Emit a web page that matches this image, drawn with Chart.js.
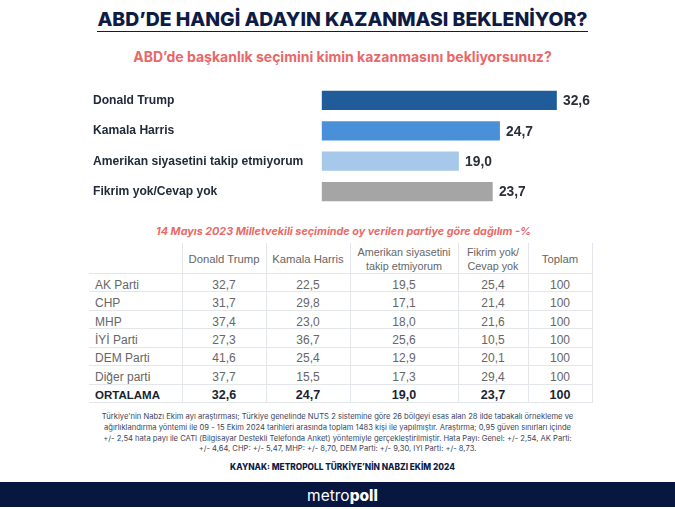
<!DOCTYPE html>
<html lang="tr">
<head>
<meta charset="utf-8">
<title>ABD'de hangi adayın kazanması bekleniyor?</title>
<script src="https://cdn.jsdelivr.net/npm/chart.js@4"></script>
<style>
    html, body { margin: 0; padding: 0; background: #fff; }
    #page { position: relative; width: 675px; height: 509px; overflow: hidden; font-family: "Liberation Sans", sans-serif; }
    #page > div { position: absolute; text-align: center; }
    #title { left: 0; width: 685px; top: 9px; font: 800 19.4px/20.5px Inter, sans-serif; color: #0d1b45; }
    #title span { border-bottom: 1.5px solid #0d1b45; }
    #subtitle { left: 0; width: 685px; top: 48px; font: 700 14px/18px Inter, sans-serif; color: #e8686a; }
    #chartBox { left: 93px; top: 77.5px; width: 560px; height: 136px; }
    #tableTitle { left: 0; width: 687px; top: 224px; font: italic 700 10.8px/15px Inter, sans-serif; color: #ea6a68; }
    #tableBox { left: 89px; top: 243px; }
    table { border-collapse: collapse; table-layout: fixed; width: 503px; color: #666; font-size: 12px; }
    td, th { box-sizing: border-box; border: 1.5px solid #e3e6ea; border-left: 0; padding: 4px 0 0; text-align: center; font-weight: 400; height: 18.43px; line-height: 12px; }
    tr:first-child th { border-top: 0; height: 29px; padding-top: 2px; font-size: 10.8px; line-height: 14px; }
    tr:first-child th.single { font-size: 11.3px; }
    td:last-child, th:last-child { border-right: 1.5px solid #e3e6ea; }
    td:first-child { text-align: left; padding-left: 6px; }
    tr.avg td { font-weight: 700; color: #1a1f33; font-size: 12.5px; }
    tr.avg td:first-child { font-size: 11.5px; }
    #note { left: 0; width: 675px; top: 412px; font: 400 7.6px/10.8px Inter, sans-serif; color: #3b4660; white-space: nowrap; }
    #source { left: 0; width: 685px; top: 461px; font: 800 8.3px/13px Inter, sans-serif; color: #0d1b45; }
    #band { left: 0; top: 482px; width: 685px; height: 25px; color: #fff; font: 400 15.5px/27px Inter, sans-serif; z-index: 1; }
    #bandFill { left: 0; top: 482px; width: 675px; height: 25px; background: #07173f; }
    #band b { font-weight: 800; }
</style>
</head>
<body>
<div id="page">
    <div id="title"><span>ABD’DE HANGİ ADAYIN KAZANMASI BEKLENİYOR?</span></div>
    <div id="subtitle">ABD’de başkanlık seçimini kimin kazanmasını bekliyorsunuz?</div>
    <div id="chartBox"><canvas id="mainChart"></canvas></div>
    <div id="tableTitle">14 Mayıs 2023 Milletvekili seçiminde oy verilen partiye göre dağılım -%</div>
    <div id="tableBox"><table id="partyTable"></table></div>
    <div id="note">Türkiye'nin Nabzı Ekim ayı araştırması; Türkiye genelinde NUTS 2 sistemine göre 26 bölgeyi esas alan 28 ilde tabakalı örnekleme ve<br>ağırlıklandırma yöntemi ile 09 - 15 Ekim 2024 tarihleri arasında toplam 1483 kişi ile yapılmıştır. Araştırma; 0,95 güven sınırları içinde<br>+/- 2,54 hata payı ile CATI (Bilgisayar Destekli Telefonda Anket) yöntemiyle gerçekleştirilmiştir. Hata Payı: Genel: +/- 2,54, AK Parti:<br>+/- 4,64, CHP: +/- 5,47, MHP: +/- 8,70, DEM Parti: +/- 9,30, IYI Parti: +/- 8,73.</div>
    <div id="source">KAYNAK: METROPOLL TÜRKİYE’NİN NABZI EKİM 2024</div>
    <div id="bandFill"></div>
    <div id="band">metro<b>poll</b></div>
</div>
<script>
const candidates = ["Donald Trump", "Kamala Harris", "Amerikan siyasetini takip etmiyorum", "Fikrim yok/Cevap yok"];
const shares = [32.6, 24.7, 19.0, 23.7];
const barColors = ["#1f5c99", "#4a90d9", "#a6c8ea", "#a5a5a5"];

const tableHead = ["", "Donald Trump", "Kamala Harris", "Amerikan siyasetini<br>takip etmiyorum", "Fikrim yok/<br>Cevap yok", "Toplam"];
const parties = ["AK Parti", "CHP", "MHP", "İYİ Parti", "DEM Parti", "Diğer parti", "ORTALAMA"];
const trumpRow = [32.7, 31.7, 37.4, 27.3, 41.6, 37.7, 32.6];
const harrisRow = [22.5, 29.8, 23.0, 36.7, 25.4, 15.5, 24.7];
const notFollowingRow = [19.5, 17.1, 18.0, 25.6, 12.9, 17.3, 19.0];
const noIdeaRow = [25.4, 21.4, 21.6, 10.5, 20.1, 29.4, 23.7];
const totalRow = [100, 100, 100, 100, 100, 100, 100];
const colWidths = [93, 84, 84, 108, 70, 64];

const fmt = (v) => v.toFixed(1).replace(".", ",");

// value labels at the end of each bar
const valueLabels = {
    id: "valueLabels",
    afterDatasetsDraw(chart) {
        const ctx = chart.ctx;
        ctx.save();
        ctx.font = "700 13.8px 'Liberation Sans'";
        ctx.fillStyle = "#2a2f3a";
        ctx.textBaseline = "middle";
        chart.getDatasetMeta(0).data.forEach((bar, i) => {
            ctx.fillText(fmt(shares[i]), bar.x + 6.5, bar.y + 1);
        });
        ctx.restore();
    },
};

new Chart(document.getElementById("mainChart"), {
    type: "bar",
    data: {
        labels: candidates,
        datasets: [{ data: shares, backgroundColor: barColors, barThickness: 18.5 }],
    },
    options: {
        indexAxis: "y",
        responsive: true,
        maintainAspectRatio: false,
        animation: false,
        layout: { padding: 0 },
        plugins: { legend: { display: false }, tooltip: { enabled: false } },
        scales: {
            x: { display: false, min: 0, max: 46 },
            y: {
                afterFit: (scale) => { scale.width = 228.7; },
                grid: { display: false },
                border: { display: false },
                ticks: {
                    crossAlign: "far",
                    color: "#222b3a",
                    padding: 0,
                    font: { family: "'Liberation Sans'", size: 12.1, weight: "bold" },
                },
            },
        },
    },
    plugins: [valueLabels],
});

// table under the chart
const table = document.getElementById("partyTable");
const widths = colWidths.map((w) => `<col style="width:${w}px">`).join("");
const headCells = tableHead.map((h) => `<th${h.includes("<br>") ? "" : ' class="single"'}>${h}</th>`).join("");
let html = `<colgroup>${widths}</colgroup><tr>${headCells}</tr>`;
parties.forEach((party, i) => {
    const isAvg = party === "ORTALAMA";
    html += `<tr${isAvg ? ' class="avg"' : ""}><td>${party}</td>`
        + `<td>${fmt(trumpRow[i])}</td><td>${fmt(harrisRow[i])}</td>`
        + `<td>${fmt(notFollowingRow[i])}</td><td>${fmt(noIdeaRow[i])}</td>`
        + `<td>${totalRow[i]}</td></tr>`;
});
table.innerHTML = html;
</script>
</body>
</html>
